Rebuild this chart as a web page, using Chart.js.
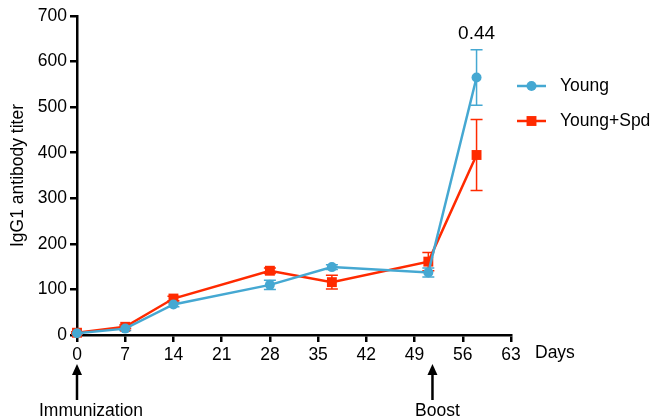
<!DOCTYPE html>
<html>
<head>
<meta charset="utf-8">
<script src="https://cdn.jsdelivr.net/npm/chart.js@4"></script>
<style>
  html, body { margin: 0; padding: 0; background: #fff; }
  #wrap { width: 653px; height: 420px; position: relative; }
</style>
</head>
<body>
<div id="wrap"><canvas id="myChart" width="653" height="420"></canvas></div>
<script>
// values
const days = [0, 7, 14, 28, 37, 51, 58];
const youngTiter = [4, 14, 67, 110, 149, 137, 565];
const youngErr = [2, 4, 5, 10, 5, 10, 61];
const spdTiter = [5, 18, 80, 141, 116, 161, 395];
const spdErr = [2, 4, 5, 6, 15, 20, 78];
const xTicks = [0, 7, 14, 21, 28, 35, 42, 49, 56, 63];
const yTicks = [0, 100, 200, 300, 400, 500, 600, 700];
const seriesNames = ["Young", "Young+Spd"];
const pValue = "0.44";
const events = [{ day: 0, label: "Immunization" }, { day: 51.6, label: "Boost" }];

const blue = "#45a8d2";
const red = "#ff2a00";
const font = "'Liberation Sans', Arial, Helvetica, sans-serif";

function toPoints(xs, ys) {
  var pts = [];
  for (let i = 0; i < xs.length; i++) pts.push({ x: xs[i], y: ys[i] });
  return pts;
}

// error bars + annotations drawn with the chart's scales
const extras = {
  id: "extras",
  beforeDatasetsDraw(chart) {
    const ctx = chart.ctx;
    const xs = chart.scales.x, ys = chart.scales.y;
    const errs = [youngErr, spdErr];
    ctx.save();
    chart.data.datasets.forEach(function (ds, di) {
      ctx.strokeStyle = ds.borderColor;
      ctx.lineWidth = 1.5;
      ds.data.forEach(function (p, i) {
        const px = xs.getPixelForValue(p.x);
        const top = ys.getPixelForValue(p.y + errs[di][i]);
        const bot = ys.getPixelForValue(Math.max(0, p.y - errs[di][i]));
        ctx.beginPath();
        ctx.moveTo(px, top); ctx.lineTo(px, bot);
        ctx.moveTo(px - 6, top); ctx.lineTo(px + 6, top);
        ctx.moveTo(px - 6, bot); ctx.lineTo(px + 6, bot);
        ctx.stroke();
      });
    });
    ctx.restore();
  },
  afterDraw(chart) {
    const ctx = chart.ctx;
    const xs = chart.scales.x, ys = chart.scales.y;
    const area = chart.chartArea;
    ctx.save();
    ctx.fillStyle = "#000";
    ctx.strokeStyle = "#000";
    ctx.textBaseline = "middle";

    // p value over the last group
    ctx.font = "19px " + font;
    ctx.textAlign = "center";
    const last = days.length - 1;
    ctx.fillText(pValue, xs.getPixelForValue(days[last]), ys.getPixelForValue(youngTiter[last] + youngErr[last]) - 16);

    // axis unit
    ctx.font = "17.5px " + font;
    ctx.textAlign = "left";
    ctx.fillText("Days", area.right + 24, area.bottom + 18);

    // event arrows
    ctx.lineWidth = 2.5;
    ctx.textAlign = "center";
    events.forEach(function (ev, k) {
      const px = xs.getPixelForValue(ev.day);
      ctx.beginPath();
      ctx.moveTo(px, area.bottom + 65);
      ctx.lineTo(px, area.bottom + 36);
      ctx.stroke();
      ctx.beginPath();
      ctx.moveTo(px, area.bottom + 29);
      ctx.lineTo(px - 5, area.bottom + 40);
      ctx.lineTo(px + 5, area.bottom + 40);
      ctx.closePath();
      ctx.fill();
      ctx.fillText(ev.label, px + (k == 0 ? 14 : 5), area.bottom + 76);
    });

    // legend
    const colors = [blue, red];
    const styles = ["circle", "rect"];
    ctx.font = "17.5px " + font;
    seriesNames.forEach(function (name, i) {
      const ly = 86 + i * 35;
      const lx = area.right + 6;
      ctx.strokeStyle = colors[i];
      ctx.fillStyle = colors[i];
      ctx.lineWidth = 2.5;
      ctx.beginPath();
      ctx.moveTo(lx, ly); ctx.lineTo(lx + 29, ly);
      ctx.stroke();
      Chart.helpers.drawPoint(ctx, { pointStyle: styles[i], radius: i == 0 ? 5 : 7, borderWidth: 0 }, lx + 14.5, ly);
      ctx.fillStyle = "#000";
      ctx.textAlign = "left";
      ctx.fillText(name, lx + 43, ly);
    });
    ctx.restore();
  }
};

new Chart("myChart", {
  type: "line",
  data: {
    datasets: [{
      label: seriesNames[0],
      data: toPoints(days, youngTiter),
      borderColor: blue,
      backgroundColor: blue,
      borderWidth: 2.5,
      pointStyle: "circle",
      pointRadius: 5,
      pointBorderWidth: 0,
      clip: false
    }, {
      label: seriesNames[1],
      data: toPoints(days, spdTiter),
      borderColor: red,
      backgroundColor: red,
      borderWidth: 2.5,
      pointStyle: "rect",
      pointRadius: 7,
      pointBorderWidth: 0,
      clip: false
    }]
  },
  options: {
    responsive: false,
    animation: false,
    layout: { padding: { top: 16, right: 142, left: 0, bottom: 0 } },
    plugins: { legend: { display: false }, tooltip: { enabled: false } },
    scales: {
      x: {
        type: "linear",
        min: 0, max: 63,
        afterBuildTicks(axis) { axis.ticks = xTicks.map(v => ({ value: v })); },
        afterFit(axis) { axis.height = 85; },
        border: { display: true, color: "#000", width: 2.5 },
        grid: { drawOnChartArea: false, color: "#000", lineWidth: 2.5, tickLength: 7 },
        ticks: { color: "#000", padding: 3, maxRotation: 0, autoSkip: false, font: { family: font, size: 17.5 } }
      },
      y: {
        min: 0, max: 700,
        afterBuildTicks(axis) { axis.ticks = yTicks.map(v => ({ value: v })); },
        afterFit(axis) { axis.width = 77; },
        border: { display: true, color: "#000", width: 2.5 },
        grid: { drawOnChartArea: false, color: "#000", lineWidth: 2.5, tickLength: 7 },
        title: { display: true, text: "IgG1 antibody titer", color: "#000", padding: { top: 8, bottom: 0 }, font: { family: font, size: 17.5 } },
        ticks: { color: "#000", padding: 3, font: { family: font, size: 17.5 } }
      }
    }
  },
  plugins: [extras]
});
</script>
</body>
</html>
